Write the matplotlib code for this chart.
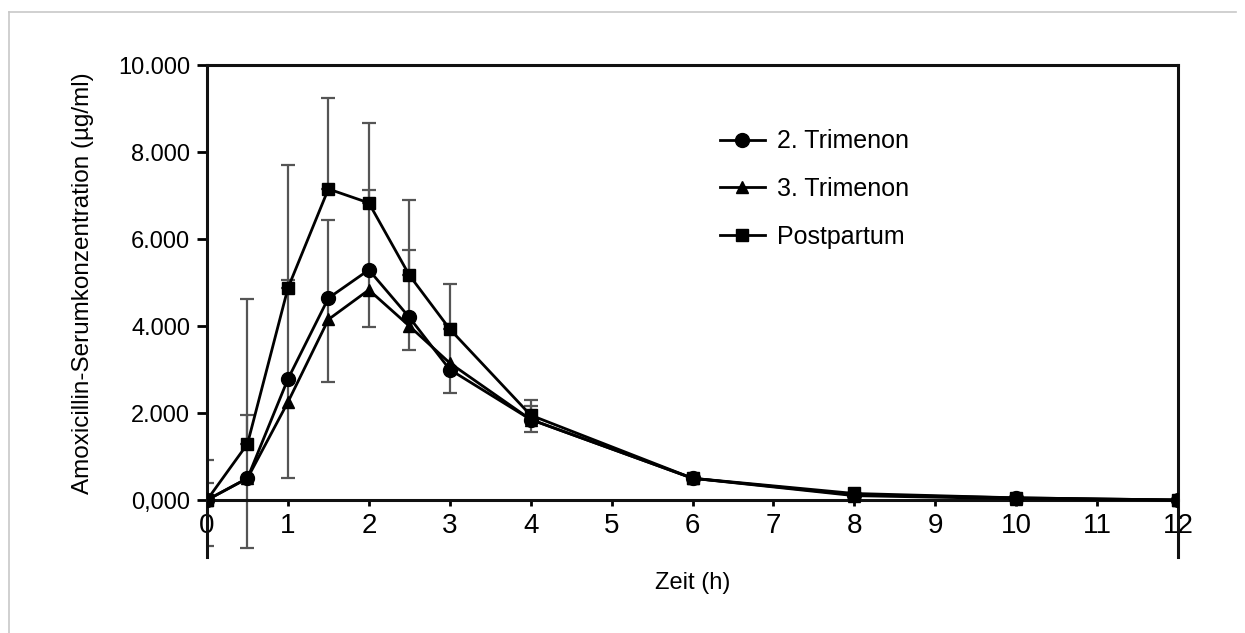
import matplotlib
matplotlib.use("Agg")
import matplotlib.pyplot as plt
from matplotlib.lines import Line2D
import numpy as np

plt.rcParams['font.family'] = ['Liberation Sans', 'DejaVu Sans']

# Zeitpunkte (h)
zeit = [0, 0.5, 1, 1.5, 2, 2.5, 3, 4, 6, 8, 10, 12]

# Mittelwerte der drei Gruppen
trim2 = [0.0, 0.50, 2.78, 4.64, 5.29, 4.20, 3.00, 1.85, 0.50, 0.12, 0.05, 0.0]
trim3 = [0.0, 0.50, 2.25, 4.15, 4.83, 4.00, 3.15, 1.85, 0.50, 0.10, 0.03, 0.0]
post = [0.0, 1.29, 4.87, 7.15, 6.83, 5.17, 3.93, 1.95, 0.50, 0.15, 0.05, 0.0]

# Fehlerbalken (unten / oben)
trim2_lo = [1.05, 1.60, 2.28, 1.93, 1.31, 0.75, 0.54, 0.29, 0, 0, 0, 0]
trim2_hi = [0.40, 1.45, 2.28, 1.80, 1.84, 1.55, 1.05, 0.30, 0, 0, 0, 0]
post_hi = [0.92, 3.33, 2.83, 2.09, 1.84, 1.73, 1.04, 0.35, 0, 0, 0, 0]

yticks = [0, 2, 4, 6, 8, 10]
ytick_labels = ['0,000', '2.000', '4.000', '6.000', '8.000', '10.000']
xticks = list(range(0, 13))

fig = plt.figure(figsize=(12.45, 6.33), dpi=100)
ax = fig.add_axes([207 / 1245, 1 - 557 / 633, (1178 - 207) / 1245, (557 - 65) / 633])

# outer grey frame
for xs, ys in [([0.007, 0.993], [0.981, 0.981]), ([0.007, 0.007], [0.981, 0.0])]:
    fig.add_artist(Line2D(xs, ys, color='#c8c8c8', lw=1.2, transform=fig.transFigure))

err_kw = dict(fmt='none', ecolor='#555555', elinewidth=1.6, capsize=5, capthick=1.6)
ax.errorbar(zeit, post, yerr=[np.zeros(len(zeit)), post_hi], **err_kw)
ax.errorbar(zeit, trim2, yerr=[trim2_lo, trim2_hi], **err_kw)

ax.plot(zeit, post, color='black', lw=2, marker='s', ms=8, label='Postpartum', zorder=3)
ax.plot(zeit, trim3, color='black', lw=2, marker='^', ms=9, label='3. Trimenon', zorder=3)
ax.plot(zeit, trim2, color='black', lw=2, marker='o', ms=10, label='2. Trimenon', zorder=3)

ax.set_xlim(0, 12)
ax.set_ylim(-1.31, 10)
ax.spines['bottom'].set_position(('data', 0))
for s in ax.spines.values():
    s.set_linewidth(2.2)
    s.set_color('#111111')

ax.set_xticks(xticks)
ax.set_xticklabels([str(x) for x in xticks], fontsize=20)
ax.set_yticks(yticks)
ax.set_yticklabels(ytick_labels, fontsize=17)
ax.tick_params(axis='y', direction='out', length=7, width=2, pad=5)
ax.tick_params(axis='x', direction='out', length=4, width=2, pad=5)

ax.set_xlabel('Zeit (h)', fontsize=17)
ax.xaxis.set_label_coords(0.5, -0.03)
ax.set_ylabel('Amoxicillin-Serumkonzentration (µg/ml)', fontsize=17.5)
ax.yaxis.set_label_coords(-0.116, 0.557)

handles, labels = ax.get_legend_handles_labels()
order = [2, 1, 0]
ax.legend([handles[i] for i in order], [labels[i] for i in order],
          loc='upper left', bbox_to_anchor=(0.505, 0.915), frameon=False,
          fontsize=18, handlelength=1.8, labelspacing=0.95, handletextpad=0.5)

fig.savefig('out.png', dpi=100)
